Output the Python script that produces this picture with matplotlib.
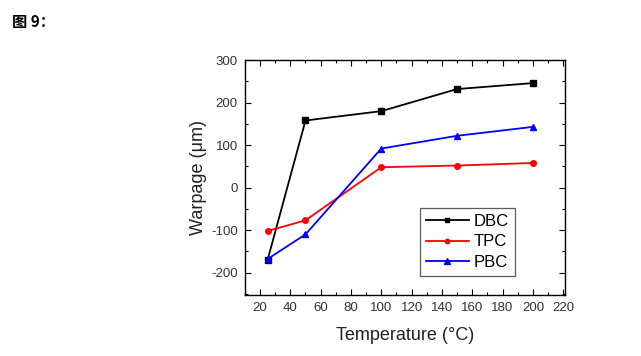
import matplotlib.pyplot as plt
from matplotlib.ticker import MultipleLocator

plt.rcParams['font.family'] = ['Liberation Sans', 'Noto Sans CJK SC', 'DejaVu Sans']
plt.rcParams['axes.unicode_minus'] = False

# data
temperature = [25, 50, 100, 150, 200]
dbc = [-170, 158, 180, 232, 246]
tpc = [-102, -77, 48, 52, 58]
pbc = [-168, -110, 92, 122, 143]

fig = plt.figure(figsize=(6.41, 3.56), dpi=100)
ax = fig.add_axes([0.382, 0.171, 0.499, 0.66])

ax.plot(temperature, dbc, color='black', marker='s', markersize=4, lw=1.3, label='DBC')
ax.plot(temperature, tpc, color='red', marker='o', markersize=4, lw=1.3, label='TPC')
ax.plot(temperature, pbc, color='blue', marker='^', markersize=5, lw=1.3, label='PBC')

ax.set_xlim(10, 221)
ax.set_ylim(-253, 300)
ax.xaxis.set_major_locator(MultipleLocator(20))
ax.xaxis.set_minor_locator(MultipleLocator(10))
ax.yaxis.set_major_locator(MultipleLocator(100))
ax.yaxis.set_minor_locator(MultipleLocator(50))
ax.tick_params(which='both', direction='in', top=True, right=True,
               labelsize=9.5, labelcolor='#333333', width=0.8)
ax.tick_params(which='major', length=4, pad=5)
ax.tick_params(which='minor', length=2)
for s in ax.spines.values():
    s.set_linewidth(1.0)

ax.set_xlabel('Temperature (°C)', fontsize=13, color='#222222', labelpad=9)
ax.set_ylabel('Warpage (μm)', fontsize=13, color='#222222', labelpad=3)

leg = ax.legend(loc='lower right', bbox_to_anchor=(0.844, 0.081), fontsize=12,
                fancybox=False, edgecolor='#333333', handlelength=2.6,
                borderpad=0.35, labelspacing=0.35, handletextpad=0.3,
                borderaxespad=0, markerscale=0.8)
leg.get_frame().set_linewidth(0.9)

fig.text(0.018, 0.96, '图 9：', fontsize=11, fontweight='bold',
         family=['Noto Sans CJK SC', 'DejaVu Sans'], va='top')

fig.savefig('out.png', dpi=100)
